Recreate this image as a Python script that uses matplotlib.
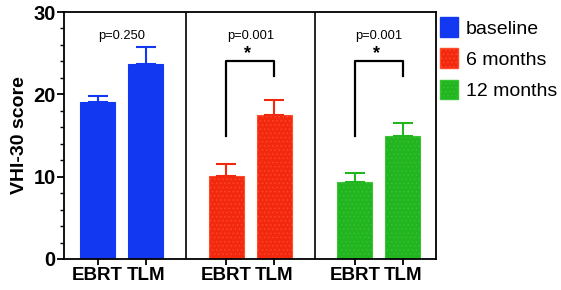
import matplotlib
matplotlib.use("Agg")
import matplotlib.pyplot as plt
from matplotlib.patches import Patch
import numpy as np

# data
groups = ["baseline", "6 months", "12 months"]
arms = ["EBRT", "TLM"]
means = [[19.1, 23.65], [10.1, 17.45], [9.35, 14.9]]
sems = [[0.7, 2.05], [1.4, 1.85], [1.15, 1.6]]
p_values = ["p=0.250", "p=0.001", "p=0.001"]
significant = [False, True, True]

colors = ["#1238F2", "#F2290F", "#22B520"]
edge_colors = ["#1238F2", "#FF4A2E", "#3BC236"]
hatches = [None, "....", "...."]

plt.rcParams["font.family"] = ["Liberation Sans", "DejaVu Sans"]
plt.rcParams["hatch.linewidth"] = 0.5

fig = plt.figure(figsize=(5.61, 2.90), dpi=100)
ax = fig.add_axes([64 / 561, 31 / 290, 372 / 561, 247 / 290])

group_step = 2.68
bar_w = 0.73
tick_pos = []
for g in range(len(groups)):
    xs = g * group_step + np.arange(len(arms))
    tick_pos.extend(xs)
    ax.bar(xs, means[g], width=bar_w, color=colors[g], edgecolor=edge_colors[g],
           hatch=hatches[g], linewidth=0.8, zorder=2)
    ax.errorbar(xs, means[g], yerr=[np.zeros(len(arms)), sems[g]], fmt="none",
                ecolor=colors[g], elinewidth=1.5, capsize=7.5, capthick=1.5, zorder=3)
    ax.text(xs.mean(), 27.1, p_values[g], ha="center", va="center", fontsize=9.3)
    if significant[g]:
        top = 24.05
        ax.plot([xs[0], xs[0], xs[1], xs[1]], [14.9, top, top, 22.2],
                color="black", lw=1.6, zorder=4)
        ax.text(xs.mean() - 0.05, 25.0, "*", ha="center", va="center",
                fontsize=13, fontweight="bold")
    # divider between panels
    if g > 0:
        ax.axvline(g * group_step - 0.84, color="black", lw=1.2, zorder=1)

ax.set_xlim(-0.70, 7.05)
ax.set_ylim(0, 30)
ax.set_xticks(tick_pos)
ax.set_xticklabels(arms * len(groups), fontsize=13.5, fontweight="bold")
ax.set_yticks([0, 10, 20, 30])
ax.set_yticks(np.arange(0, 31, 2), minor=True)
ax.set_yticklabels(["0", "10", "20", "30"], fontsize=14.5, fontweight="bold")
ax.tick_params(axis="x", length=4, width=1.3, pad=2)
ax.tick_params(axis="y", which="major", length=5, width=1.3, pad=1)
ax.tick_params(axis="y", which="minor", length=3, width=1.0)
for s in ax.spines.values():
    s.set_linewidth(1.3)
ax.set_ylabel("VHI-30 score", fontsize=14, fontweight="bold", labelpad=4)

handles = [Patch(facecolor=colors[i], edgecolor=edge_colors[i], hatch=hatches[i])
           for i in range(len(groups))]
ax.legend(handles, groups, loc="upper left", bbox_to_anchor=(1.0, 0.995),
          frameon=False, fontsize=14, handlelength=0.95, handleheight=1.2,
          handletextpad=0.4, labelspacing=0.55, borderaxespad=0.2, borderpad=0.0)

fig.savefig("out.png", dpi=100)
